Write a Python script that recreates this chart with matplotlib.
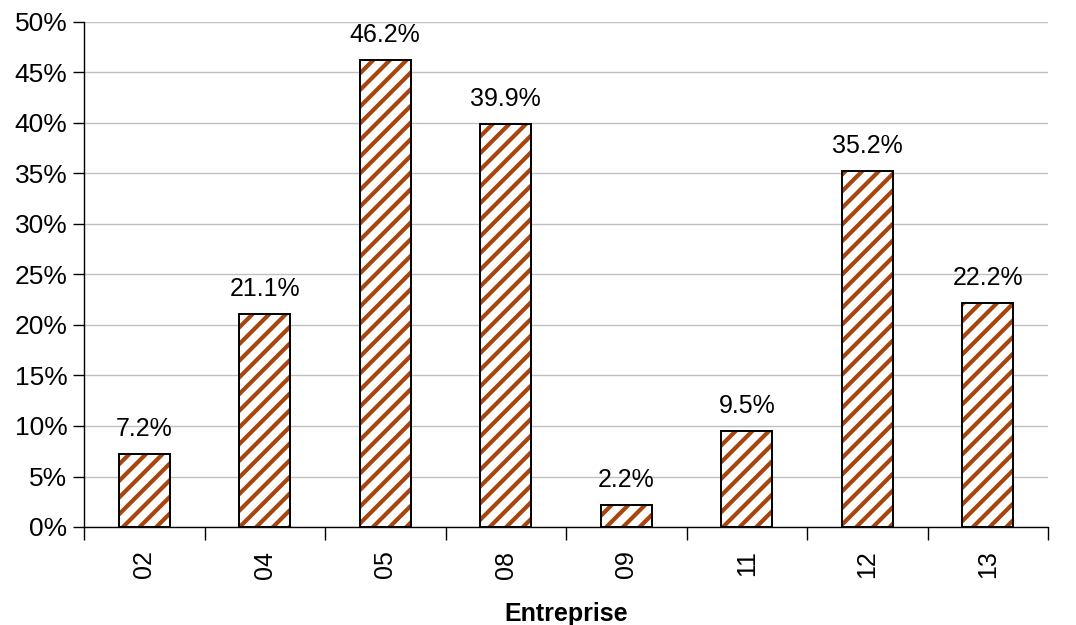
import matplotlib
matplotlib.use("Agg")
import matplotlib.pyplot as plt
import numpy as np
from matplotlib.ticker import FixedLocator, PercentFormatter

categories = ["02", "04", "05", "08", "09", "11", "12", "13"]
values = [7.2, 21.1, 46.2, 39.9, 2.2, 9.5, 35.2, 22.2]

plt.rcParams["font.family"] = ["Liberation Sans", "DejaVu Sans"]
plt.rcParams["hatch.linewidth"] = 3.0

fig = plt.figure(figsize=(10.76, 6.25), dpi=100)
ax = fig.add_axes([84 / 1076, 1 - 527 / 625, (1048 - 84) / 1076, (527 - 22) / 625])

x = np.arange(len(categories))
# hatched fill in brown, then black outline on top
ax.bar(x, values, width=0.42, color="white", edgecolor="#A8440E",
       linewidth=0, hatch="//", zorder=3)
ax.bar(x, values, width=0.42, fill=False, edgecolor="black",
       linewidth=1.4, zorder=4)

for xi, v in zip(x, values):
    ax.text(xi, v + 1.3, f"{v:.1f}%", ha="center", va="bottom", fontsize=18)

ax.set_xlim(-0.5, len(categories) - 0.5)
ax.set_ylim(0, 50)
ax.set_yticks(np.arange(0, 51, 5))
ax.yaxis.set_major_formatter(PercentFormatter(decimals=0))
ax.grid(axis="y", color="#c0c0c0", linewidth=1, zorder=0)

ax.xaxis.set_major_locator(FixedLocator(np.arange(-0.5, len(categories), 1)))
ax.xaxis.set_major_formatter(plt.NullFormatter())
ax.xaxis.set_minor_locator(FixedLocator(x))
ax.set_xticklabels(categories, minor=True, rotation=90)
ax.tick_params(axis="x", which="minor", length=0, pad=17, labelsize=18)
ax.tick_params(axis="x", which="major", length=9, width=1, direction="out")
ax.tick_params(axis="y", length=8, width=1, labelsize=19, pad=4)

for side in ["top", "right"]:
    ax.spines[side].set_visible(False)
for side in ["left", "bottom"]:
    ax.spines[side].set_linewidth(1)

ax.set_xlabel("Entreprise", fontsize=18, fontweight="bold", labelpad=17)

fig.savefig("out.png", dpi=100)
